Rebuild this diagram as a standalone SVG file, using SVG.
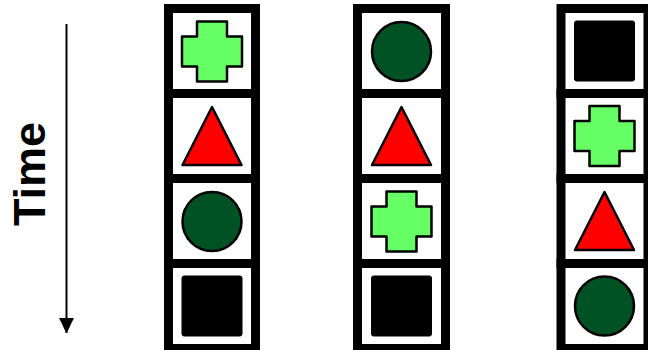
<svg xmlns="http://www.w3.org/2000/svg" width="648" height="350" viewBox="0 0 648 350">
<defs>
<style>
.cell{fill:#fff;stroke:#000;stroke-width:9}
.cross{fill:#66ff66;stroke:#000;stroke-width:2.5;stroke-linejoin:round}
.tri{fill:#ff0000;stroke:#000;stroke-width:2.5;stroke-linejoin:round}
.circ{fill:#005224;stroke:#000;stroke-width:2.5}
.sq{fill:#000;stroke:#000;stroke-width:1}
.lbl{font-family:"Liberation Sans",Arial,sans-serif;font-weight:bold;font-size:45px;fill:#000}
</style>
<marker id="ah" viewBox="0 0 10 10" refX="10" refY="5" markerWidth="8" markerHeight="8" markerUnits="userSpaceOnUse" orient="auto">
<path d="M0,0 L10,5 L0,10 z" fill="#000"/>
</marker>
<path id="crossShape" d="M-15,-30 H15 V-15 H30 V15 H15 V30 H-15 V15 H-30 V-15 H-15 Z"/>
<path id="triShape" d="M0,-29 L29.5,29 L-29.5,29 Z"/>
</defs>
<g id="connectors">
<line x1="66.5" y1="24" x2="66.5" y2="333" stroke="#000" stroke-width="2" marker-end="url(#ah)"/>
<path d="M59,318 L66.5,333 L74,318 Z" fill="#000"/>
</g>
<g id="label-time">
<text class="lbl" transform="translate(45,174) rotate(-90)" text-anchor="middle">Time</text>
</g>
<g id="column1">
<rect class="cell" x="168.5" y="8.5" width="87" height="85"/>
<rect class="cell" x="168.5" y="93.5" width="87" height="85"/>
<rect class="cell" x="168.5" y="178.5" width="87" height="85"/>
<rect class="cell" x="168.5" y="263.5" width="87" height="85"/>
<use href="#crossShape" class="cross" transform="translate(212,51.5)"/>
<use href="#triShape" class="tri" transform="translate(212,136)"/>
<circle class="circ" cx="212" cy="221.5" r="29.5"/>
<rect class="sq" x="182" y="276" width="60" height="60" rx="2"/>
</g>
<g id="column2">
<rect class="cell" x="357.5" y="8.5" width="88" height="85"/>
<rect class="cell" x="357.5" y="93.5" width="88" height="85"/>
<rect class="cell" x="357.5" y="178.5" width="88" height="85"/>
<rect class="cell" x="357.5" y="263.5" width="88" height="85"/>
<circle class="circ" cx="401.5" cy="51.5" r="29.5"/>
<use href="#triShape" class="tri" transform="translate(401.5,136)"/>
<use href="#crossShape" class="cross" transform="translate(401.5,221.5)"/>
<rect class="sq" x="371.5" y="276" width="60" height="60" rx="2"/>
</g>
<g id="column3">
<rect class="cell" x="561" y="8.5" width="87" height="85"/>
<rect class="cell" x="561" y="93.5" width="87" height="85"/>
<rect class="cell" x="561" y="178.5" width="87" height="85"/>
<rect class="cell" x="561" y="263.5" width="87" height="85"/>
<rect class="sq" x="574.5" y="21" width="60" height="60" rx="2"/>
<use href="#crossShape" class="cross" transform="translate(604.5,136)"/>
<use href="#triShape" class="tri" transform="translate(604.5,221)"/>
<circle class="circ" cx="604.5" cy="306" r="29.5"/>
</g>
</svg>
